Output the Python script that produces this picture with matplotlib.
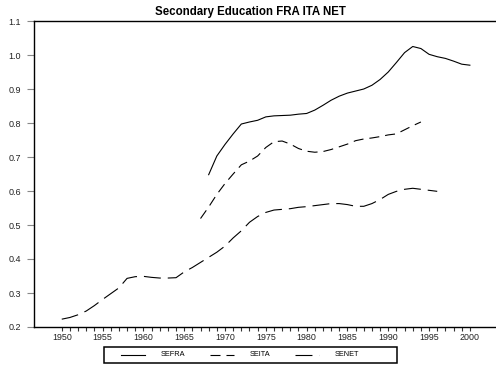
import matplotlib
matplotlib.use("Agg")
import matplotlib.pyplot as plt
from matplotlib.lines import Line2D
from matplotlib.patches import Rectangle

plt.rcParams['font.family'] = ['Liberation Sans', 'DejaVu Sans']
plt.rcParams['lines.scale_dashes'] = False

# Secondary education enrolment series
years_fra = list(range(1968, 2001))
sefra = [0.648, 0.703, 0.737, 0.768, 0.797, 0.803, 0.808, 0.818, 0.821, 0.822,
         0.823, 0.826, 0.828, 0.838, 0.852, 0.867, 0.879, 0.888, 0.894, 0.900,
         0.911, 0.928, 0.950, 0.978, 1.007, 1.025, 1.019, 1.002, 0.995, 0.990,
         0.982, 0.973, 0.970]

years_ita = list(range(1967, 1995))
seita = [0.519, 0.553, 0.590, 0.622, 0.650, 0.677, 0.688, 0.703, 0.728, 0.745,
         0.747, 0.738, 0.725, 0.717, 0.714, 0.716, 0.722, 0.730, 0.738, 0.748,
         0.753, 0.756, 0.760, 0.765, 0.768, 0.780, 0.792, 0.803]

years_net = list(range(1950, 1997))
senet = [0.223, 0.228, 0.236, 0.247, 0.263, 0.281, 0.298, 0.315, 0.343, 0.348,
         0.349, 0.346, 0.344, 0.344, 0.345, 0.362, 0.375, 0.390, 0.405, 0.420,
         0.438, 0.462, 0.483, 0.508, 0.525, 0.537, 0.544, 0.546, 0.548, 0.552,
         0.554, 0.557, 0.560, 0.563, 0.563, 0.560, 0.555, 0.555, 0.563, 0.575,
         0.590, 0.599, 0.605, 0.608, 0.605, 0.602, 0.599]

labels = ["SEFRA", "SEITA", "SENET"]
styles = ["-", (0, (7.2, 4.3)), (0, (12.2, 5.0))]
x_major = list(range(1950, 2001, 5))
x_minor = list(range(1950, 2001))
y_ticks = [0.2, 0.3, 0.4, 0.5, 0.6, 0.7, 0.8, 0.9, 1.0, 1.1]

fig = plt.figure(figsize=(4.96, 3.69), dpi=100)
ax = fig.add_axes([34 / 496, 1 - 327 / 369, 1 - 34 / 496, (327 - 21) / 369])

lw = 0.8
for xs, ys, ls in zip([years_fra, years_ita, years_net],
                      [sefra, seita, senet], styles):
    ax.plot(xs, ys, color='black', linewidth=lw, linestyle=ls)

ax.set_xlim(1946.6, 2003.2)
ax.set_ylim(0.2, 1.1)
ax.set_xticks(x_major)
ax.set_xticks(x_minor, minor=True)
ax.set_yticks(y_ticks)
ax.set_yticklabels([f"{v:.1f}" for v in y_ticks])
ax.tick_params(axis='x', which='both', direction='out', length=3.0, width=0.8,
               pad=1.5, labelsize=6.4, color='#333333')
ax.tick_params(axis='y', which='major', direction='out', length=5.0, width=0.8,
               pad=4.5, labelsize=6.5, color='#888888')
for lab in ax.get_xticklabels() + ax.get_yticklabels():
    lab.set_color('#222222')

ax.spines['right'].set_visible(False)
for side in ['left', 'top', 'bottom']:
    ax.spines[side].set_linewidth(1.0)

fig.text(0.505, 1 - 12 / 369, "Secondary Education FRA ITA NET",
         ha='center', va='center', fontsize=8.3, fontweight='bold')

# Legend drawn as a boxed row in figure coordinates
W, H = 496, 369
box = Rectangle((104 / W, 1 - 363 / H), (397 - 104) / W, (363 - 346.5) / H,
                transform=fig.transFigure, fill=False, edgecolor='black',
                linewidth=1.1)
fig.add_artist(box)
ly = 1 - 354.5 / H
starts = [121, 210, 295]
for x0, lab, ls in zip(starts, labels, styles):
    fig.add_artist(Line2D([x0 / W, (x0 + 24) / W], [ly, ly],
                          transform=fig.transFigure, color='black',
                          linewidth=lw, linestyle=ls))
    fig.text((x0 + 40) / W, ly, lab, ha='left', va='center', fontsize=5.3)

fig.savefig("out.png", dpi=100)
